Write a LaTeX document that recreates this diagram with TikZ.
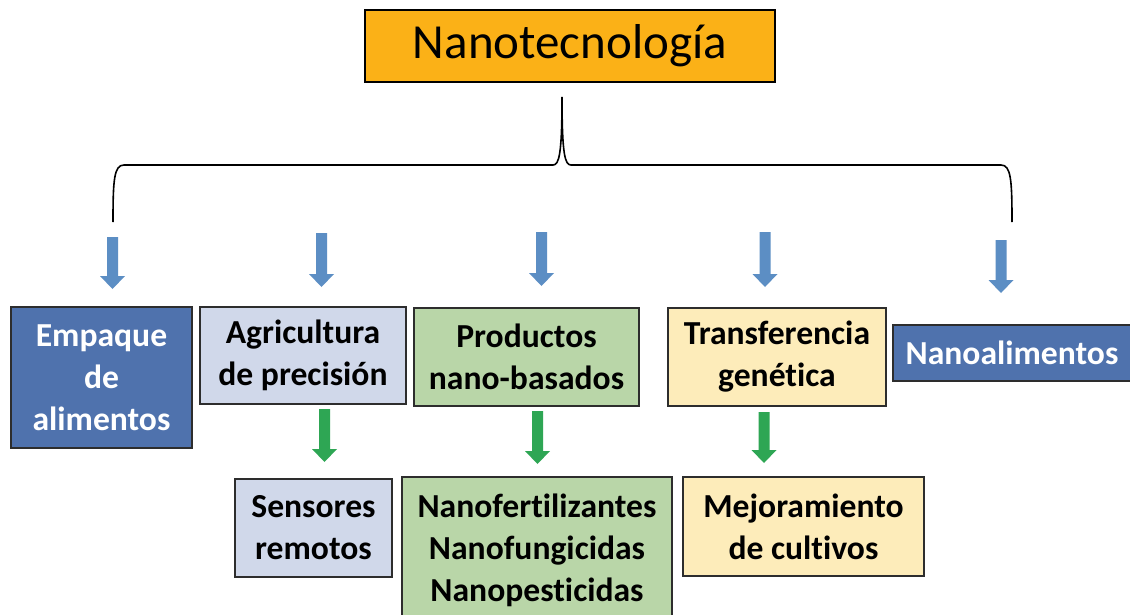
\documentclass[tikz,border=0pt]{standalone}
\usepackage{fontspec}
\setmainfont[Ligatures=NoCommon]{Carlito}
\definecolor{orangeT}{RGB}{251,177,23}
\definecolor{darkB}{RGB}{79,114,173}
\definecolor{lightB}{RGB}{208,216,234}
\definecolor{lightG}{RGB}{185,214,168}
\definecolor{lightY}{RGB}{253,236,186}
\definecolor{arrB}{RGB}{92,142,196}
\definecolor{arrG}{RGB}{46,166,84}
\definecolor{edge}{RGB}{45,45,45}
\newcommand\blockarr[4]{\fill[#4] (#1-5.5,#2) -- (#1+5.5,#2) -- (#1+5.5,#3-13) -- (#1+12.5,#3-13) -- (#1,#3) -- (#1-12.5,#3-13) -- (#1-5.5,#3-13) -- cycle;}
\begin{document}
\begin{tikzpicture}[x=1pt,y=-1pt,
  box/.style={draw=edge, line width=1.3pt, inner sep=0pt, align=center,
    font=\fontsize{33.6pt}{42pt}\selectfont\bfseries},
  bluebox/.style={box, fill=darkB, text=white},
  lbbox/.style={box, fill=lightB},
  grbox/.style={box, fill=lightG},
  yebox/.style={box, fill=lightY}]
\useasboundingbox (0,0) rectangle (1130,615);
\fill[white] (0,0) rectangle (1130,615);
% title
\node[draw=black, line width=1.3pt, fill=orangeT, inner sep=0pt,
  minimum width=410pt, minimum height=72pt,
  font=\fontsize{49pt}{55pt}\selectfont] (title) at (570,46) {Nanotecnología};
% brace
\draw[line width=1.6pt, black]
  (113,222) .. controls (113,180) and (114,165) .. (124,165) -- (553,165)
  .. controls (559,165) and (562,155) .. (562,97)
  .. controls (562,155) and (565,165) .. (571,165) -- (1001,165)
  .. controls (1011,165) and (1012,180) .. (1012,222);
% level 1 boxes
\node[bluebox, minimum width=181pt, minimum height=141pt] (emp) at (101.5,377.5) {Empaque\\de\\alimentos};
\node[lbbox, minimum width=206pt, minimum height=97pt] (agr) at (303,355.5) {Agricultura\\de precisión};
\node[grbox, minimum width=225pt, minimum height=98pt] (pro) at (526.5,357) {Productos\\nano-basados};
\node[yebox, minimum width=218pt, minimum height=98pt] (tra) at (777,357) {Transferencia\\genética};
\node[bluebox, minimum width=238pt, minimum height=56pt] (nal) at (1012,353) {Nanoalimentos};
% level 2 boxes
\node[lbbox, minimum width=157pt, minimum height=98pt] (sen) at (313.5,528) {Sensores\\remotos};
\node[grbox, minimum width=270pt, minimum height=146pt] (nfz) at (537,550) {Nanofertilizantes\\Nanofungicidas\\Nanopesticidas};
\node[yebox, minimum width=241pt, minimum height=99pt] (mej) at (803.5,526.5) {Mejoramiento\\de cultivos};
% blue arrows
\blockarr{112.5}{237}{289}{arrB}
\blockarr{321.5}{233}{287}{arrB}
\blockarr{541.5}{232}{286}{arrB}
\blockarr{765}{232}{287}{arrB}
\blockarr{1001}{240}{293}{arrB}
% green arrows
\blockarr{324.5}{409}{462}{arrG}
\blockarr{537.5}{411}{464}{arrG}
\blockarr{764}{412}{463}{arrG}
\end{tikzpicture}
\end{document}
